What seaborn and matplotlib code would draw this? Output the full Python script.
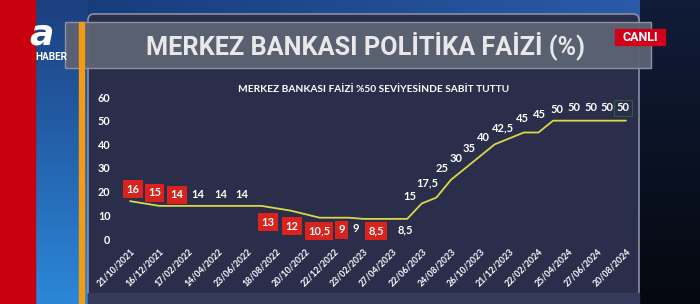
import numpy as np
import pandas as pd
import matplotlib
matplotlib.use("Agg")
import matplotlib.pyplot as plt
import seaborn as sns
from matplotlib.patches import Rectangle, FancyBboxPatch

# ---------------- data ----------------
meeting_dates = [
    "21/10/2021", "18/11/2021", "16/12/2021",
    "20/01/2022", "17/02/2022", "10/03/2022", "14/04/2022", "26/05/2022", "23/06/2022",
    "21/07/2022", "18/08/2022", "22/09/2022", "20/10/2022", "24/11/2022", "22/12/2022",
    "19/01/2023", "23/02/2023", "30/03/2023", "27/04/2023", "25/05/2023", "22/06/2023",
    "20/07/2023", "24/08/2023", "21/09/2023", "26/10/2023", "23/11/2023", "21/12/2023",
    "25/01/2024", "22/02/2024", "21/03/2024", "25/04/2024", "23/05/2024", "27/06/2024",
    "23/07/2024", "20/08/2024",
]
policy_rate = [
    16, 15, 14,
    14, 14, 14, 14, 14, 14,
    14, 13, 12, 10.5, 9, 9,
    9, 8.5, 8.5, 8.5, 8.5, 15,
    17.5, 25, 30, 35, 40, 42.5,
    45, 45, 50, 50, 50, 50,
    50, 50,
]
# which meetings carry a value label, and whether it is a rate change (red box)
label_meetings = [0, 1, 2, 4, 6, 8, 10, 11, 12, 13, 15, 16, 19,
                  20, 21, 22, 23, 24, 25, 26, 27, 28, 29, 30, 31, 32, 34]
label_changed = [True, True, True, False, False, False, True, True, True, True, False, True, False,
                 False, False, False, False, False, False, False, False, False, False, False, False, False, False]
# layout: label offsets from their point, in pixels
label_dx = [3, 10, 18, 9, 3.5, -5, -8, 1.5, 14, 22, 7, 13, -2,
            -12, -9, -9, -9.5, -11, -11, -6, -1, 0.5, 4, 6, 9, 10, -3]
label_dy = [12, 10.5, 11, 11, 11, 11, -14, -15.5, -17, -12, -11, -12, -11,
            7, 14.5, 11, 10, 8, 7, 11, 14.5, 17.5, 10.7, 12.7, 12.7, 12.7, 12.7]

title = "MERKEZ BANKASI POLİTİKA FAİZİ (%)"
subtitle = "MERKEZ BANKASI FAİZİ %50 SEVİYESİNDE SABİT TUTTU"

df = pd.DataFrame({"idx": np.arange(len(policy_rate)), "rate": policy_rate})

def fmt(v):
    return (("%g" % v)).replace(".", ",")

# ---------------- style ----------------
sns.set_style("dark")
plt.rcParams["font.family"] = ["Lato", "DejaVu Sans"]
COND = ["Roboto", "DejaVu Sans"]

W, H = 700, 304
fig = plt.figure(figsize=(7.0, 3.04), dpi=100)

# background (pixel coordinates)
bg = fig.add_axes([0, 0, 1, 1], zorder=0)
bg.set_xlim(0, W)
bg.set_ylim(H, 0)
bg.axis("off")

def grad(ax, x0, x1, y0, y1, c0, c1, horizontal=False, z=0):
    c0 = np.array(matplotlib.colors.to_rgb(c0))
    c1 = np.array(matplotlib.colors.to_rgb(c1))
    t = np.linspace(0, 1, 64)
    arr = c0[None, :] * (1 - t[:, None]) + c1[None, :] * t[:, None]
    if horizontal:
        img = arr[None, :, :]
    else:
        img = arr[:, None, :]
    ax.imshow(img, extent=(x0, x1, y1, y0), aspect="auto", zorder=z, interpolation="bilinear")

grad(bg, 0, W, 0, H, "#0c1a3a", "#0a1020", z=0)
grad(bg, 35, 640, 0, 20, "#163a78", "#2a5aa8", horizontal=True, z=1)
grad(bg, 35, 88, 0, H, "#1c3f80", "#2c86d8", z=1)
grad(bg, 640, W, 0, H, "#101c38", "#05080f", z=1)
bg.add_patch(Rectangle((0, 0), 35, H, color="#c8000f", zorder=2))

# chart panel
bg.add_patch(FancyBboxPatch((88, 14), 551, 283, boxstyle="round,pad=0,rounding_size=6",
                            fc="#2a2e4b", ec="#8a90a2", lw=1.2, zorder=3))
bg.add_patch(Rectangle((88, 293), 551, 11, color="#343a5a", zorder=3))
# header band
bg.add_patch(Rectangle((65, 22), 586, 46, fc="#5c6373", ec="#9097a6", lw=1, alpha=0.95, zorder=4))
# orange bar
bg.add_patch(Rectangle((79, 22), 4.5, H - 22, color="#f49b14", zorder=5))
# CANLI tag
bg.add_patch(Rectangle((615, 29), 50, 16, color="#d0021b", zorder=6))
bg.text(640, 37.5, "CANLI", color="white", fontsize=9, fontweight="bold",
        ha="center", va="center", zorder=7, family=COND)
# logo
bg.text(42, 44.5, "a", color="white", fontsize=26, fontweight="bold", style="italic",
        ha="center", va="baseline", zorder=7, family=["DejaVu Sans"])
bg.text(51, 57.5, "HABER", color="white", fontsize=7.2, fontweight="bold",
        ha="center", va="center", zorder=7, family=COND)
# title
bg.text(365, 45.5, title, color="#e8e8ea", fontsize=18.2, fontweight="bold",
        ha="center", va="center", zorder=7, family=COND)
bg.text(374, 90, subtitle, color="white", fontsize=7.3, fontweight="bold",
        ha="center", va="center", zorder=7)

# ---------------- chart axes ----------------
px = 14.588
x_left, x_right, y_top, y_bot = 116, 630, 97, 239
ax = fig.add_axes([x_left / W, (H - y_bot) / H, (x_right - x_left) / W, (y_bot - y_top) / H], zorder=10)
ax.set_facecolor("none")
sns.lineplot(data=df, x="idx", y="rate", ax=ax, color="#d9d846", linewidth=1.3)
for s in ax.spines.values():
    s.set_visible(False)
ax.grid(False)
ax.set_xlim(-(130 - x_left) / px, (x_right - 130) / px)
ax.set_ylim(0, 60)
ax.set_xlabel("")
ax.set_ylabel("")
ax.set_yticks(range(0, 61, 10))
ax.set_yticklabels([str(v) for v in range(0, 61, 10)], color="white", fontsize=7.8, fontweight="bold")
xt = list(range(0, len(meeting_dates), 2))
ax.set_xticks(xt)
ax.set_xticklabels([meeting_dates[i] for i in xt], rotation=45, ha="right",
                   rotation_mode="anchor", color="white", fontsize=6.3, fontweight="bold")
ax.tick_params(axis="both", length=0)
ax.tick_params(axis="y", pad=4)
ax.tick_params(axis="x", pad=6)

for k, i in enumerate(label_meetings):
    v = policy_rate[i]
    kw = {}
    if label_changed[k]:
        kw["bbox"] = dict(boxstyle="square,pad=0.3", fc="#d8241c", ec="none")
    elif k == len(label_meetings) - 1:
        kw["bbox"] = dict(boxstyle="square,pad=0.2", fc="none", ec="#2f5e3c", lw=0.8)
    ax.annotate(fmt(v), xy=(i, v), xytext=(label_dx[k], label_dy[k]), textcoords="offset pixels",
                ha="center", va="center", color="white", fontsize=8, fontweight="bold",
                annotation_clip=False, **kw)

fig.savefig("out.png", dpi=100)
